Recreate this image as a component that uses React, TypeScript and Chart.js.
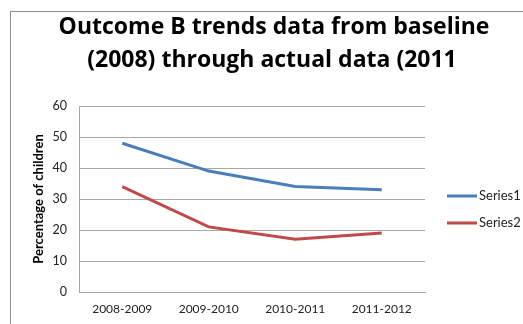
import React, { useEffect, useRef } from "react";
import { Chart, registerables } from "chart.js";

Chart.register(...registerables);

const categories = ["2008-2009", "2009-2010", "2010-2011", "2011-2012"];
const series1 = [48, 39, 34, 33];
const series2 = [34, 21, 17, 19];
const seriesNames = ["Series1", "Series2"];
const titleLines = ["Outcome B trends data from baseline", "(2008) through actual data (2011"];
const yAxisTitle = "Percentage of children";

const FONT = "Lato, 'Open Sans', sans-serif";
const TITLE_FONT = "'Open Sans', Lato, sans-serif";
const BLUE = "#4A7EBB";
const RED = "#BE4B48";
const GRID = "#a6a6a6";

// Frame, two-line heading and a right-hand legend drawn next to the plot area
const decorations = {
  id: "decorations",
  afterDraw(chart: any) {
    const { ctx, chartArea } = chart;
    ctx.save();
    ctx.strokeStyle = "#8c8c8c";
    ctx.lineWidth = 1;
    ctx.strokeRect(10.5, 11.5, 700, 500);

    ctx.fillStyle = "#000";
    ctx.font = `bold 23px ${TITLE_FONT}`;
    ctx.textAlign = "center";
    ctx.textBaseline = "alphabetic";
    ctx.fillText(titleLines[0], 274, 34);
    ctx.fillText(titleLines[1], 272, 66.5);

    const lx = chartArea.right + 22;
    const y0 = chartArea.top + 90;
    ctx.font = `13px ${FONT}`;
    ctx.textAlign = "left";
    ctx.textBaseline = "middle";
    chart.data.datasets.forEach((ds: any, i: number) => {
      const y = y0 + i * 27;
      ctx.strokeStyle = ds.borderColor;
      ctx.lineWidth = 3;
      ctx.beginPath();
      ctx.moveTo(lx, y);
      ctx.lineTo(lx + 30, y);
      ctx.stroke();
      ctx.fillStyle = "#222";
      ctx.fillText(ds.label, lx + 32, y);
    });
    ctx.restore();
  },
};

export default function App() {
  const ref = useRef<HTMLCanvasElement>(null);

  useEffect(() => {
    document.body.style.margin = "0";
    document.body.style.overflow = "hidden";
    const chart = new Chart(ref.current!, {
      type: "line",
      data: {
        labels: categories,
        datasets: [
          {
            label: seriesNames[0],
            data: series1,
            borderColor: BLUE,
            backgroundColor: BLUE,
            borderWidth: 3,
            pointRadius: 0,
            tension: 0,
          },
          {
            label: seriesNames[1],
            data: series2,
            borderColor: RED,
            backgroundColor: RED,
            borderWidth: 3,
            pointRadius: 0,
            tension: 0,
          },
        ],
      },
      options: {
        responsive: false,
        animation: false,
        layout: { padding: { top: 106, right: 98, bottom: 0, left: 0 } },
        plugins: {
          legend: { display: false },
          title: { display: false },
          tooltip: { enabled: false },
        },
        scales: {
          x: {
            type: "category",
            offset: true,
            grid: { display: false, drawTicks: false },
            border: { display: true, color: GRID, width: 1 },
            ticks: { color: "#222", font: { family: FONT, size: 12 }, padding: 10 },
            afterFit: (s: any) => {
              s.height = 32;
            },
          },
          y: {
            min: 0,
            max: 60,
            ticks: { stepSize: 10, color: "#222", font: { family: FONT, size: 12.5 }, padding: 12 },
            grid: { color: GRID, drawTicks: false },
            border: { display: true, color: GRID, width: 1 },
            title: {
              display: true,
              text: yAxisTitle,
              color: "#000",
              font: { family: FONT, size: 13, weight: "bold" },
              padding: { top: 31, bottom: 0 },
            },
            afterFit: (s: any) => {
              s.width = 79;
            },
          },
        },
      },
      plugins: [decorations],
    });
    return () => chart.destroy();
  }, []);

  return (
    <div style={{ position: "fixed", left: 0, top: 0, width: 523, height: 324, background: "#fff" }}>
      <canvas ref={ref} width={523} height={324} />
    </div>
  );
}
